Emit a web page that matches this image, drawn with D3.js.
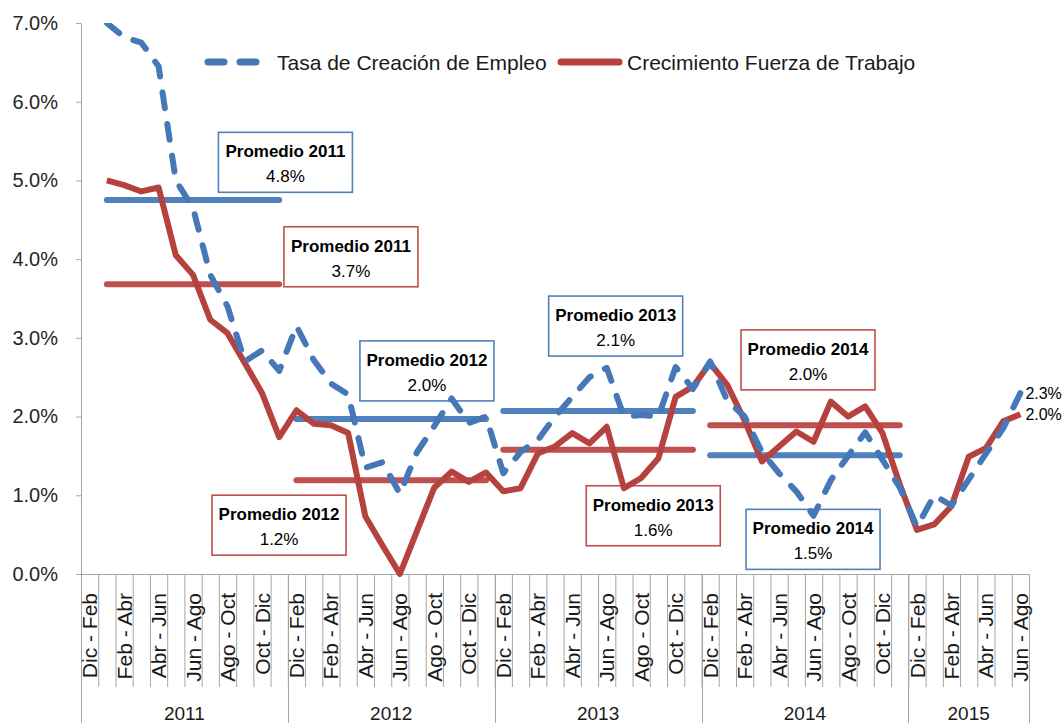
<!DOCTYPE html>
<html>
<head>
<meta charset="utf-8">
<script src="https://cdn.jsdelivr.net/npm/d3@7"></script>
<style>
  body { margin: 0; background: #fff; }
  svg text { font-family: "Liberation Sans", Arial, sans-serif; }
</style>
</head>
<body>
<div id="chart"></div>
<script>
// Rolling two-month periods, twelve per year (2015 stops at Jun - Ago)
let periods = ["Dic - Feb", "Ene - Mar", "Feb - Abr", "Mar - May", "Abr - Jun", "May - Jul",
  "Jun - Ago", "Jul - Sep", "Ago - Oct", "Sep - Nov", "Oct - Dic", "Nov - Ene"]
let years = ["2011", "2012", "2013", "2014", "2015"]
let periodsPerYear = [12, 12, 12, 12, 7]

// Tasa de Creación de Empleo (%)
let empleo = [null, 7.0, 6.82, 6.75, 6.45, 5.0, 4.65, 3.8, 3.4, 2.7, 2.84, 2.58,
  3.15, 2.72, 2.42, 2.28, 1.35, 1.42, 1.02, 1.55, 1.88, 2.23, 1.92, 2.0,
  1.28, 1.55, 1.7, 2.0, 2.25, 2.5, 2.62, 2.0, 2.02, 2.0, 2.63, 2.35,
  2.7, 2.2, 2.0, 1.55, 1.28, 1.05, 0.74, 1.19, 1.5, 1.8, 1.45, 1.1,
  0.6, 1.0, 0.87, 1.2, 1.53, 1.85, 2.3]

// Crecimiento Fuerza de Trabajo (%)
let fuerza = [null, 5.0, 4.94, 4.86, 4.91, 4.05, 3.8, 3.23, 3.06, 2.68, 2.3, 1.74,
  2.08, 1.91, 1.89, 1.79, 0.73, 0.36, 0.0, 0.55, 1.1, 1.3, 1.17, 1.29,
  1.05, 1.09, 1.53, 1.62, 1.79, 1.66, 1.87, 1.09, 1.22, 1.47, 2.25, 2.38,
  2.68, 2.4, 1.95, 1.43, 1.62, 1.81, 1.68, 2.19, 2.0, 2.13, 1.79, 1.14,
  0.56, 0.63, 0.86, 1.49, 1.6, 1.94, 2.03]

// Yearly averages drawn as flat lines: [first period, last period]
let promSpan = [[1, 11], [12, 23], [24, 35], [36, 47]]
let promEmpleo = [4.75, 1.97, 2.07, 1.51]
let promFuerza = [3.68, 1.19, 1.58, 1.89]

// Annotation boxes
let boxTitle = ["Promedio 2011", "Promedio 2011", "Promedio 2012", "Promedio 2012",
  "Promedio 2013", "Promedio 2013", "Promedio 2014", "Promedio 2014"]
let boxText = ["4.8%", "3.7%", "2.0%", "1.2%", "2.1%", "1.6%", "2.0%", "1.5%"]
let boxSeries = ["empleo", "fuerza", "empleo", "fuerza", "empleo", "fuerza", "fuerza", "empleo"]
// where each box sits, in (period, percent) units
let boxAt = [[11.86, 5.23], [15.66, 4.03], [20.07, 2.58], [11.49, 0.62],
  [31.02, 3.15], [33.2, 0.74], [42.18, 2.72], [42.47, 0.44]]

let seriesNames = ["Tasa de Creación de Empleo", "Crecimiento Fuerza de Trabajo"]

let width = 1064
let height = 723
let blue = "#4677b6", red = "#b5423f"
let blueProm = "#4f81bd", redProm = "#c0504d"
let axisColor = "#a6a6a6"

let svg = d3.select("#chart").append("svg")
    .attr("width", width)
    .attr("height", height)

// flat list of categories
let cats = []
years.forEach((yr, k) => {
  for (let j = 0; j < periodsPerYear[k]; j++) cats.push({year: yr, period: periods[j], j: j})
})

let left = 81, right = 1029
let x = d3.scaleBand().domain(d3.range(cats.length)).range([left, right])
let xEdge = d3.scaleLinear().domain([0, cats.length]).range([left, right])
let y = d3.scaleLinear().domain([0, 7]).range([574, 23])
let cx = (i) => x(i) + x.bandwidth() / 2

// clip only the top of the plot (the first point sits on 7%)
svg.append("clipPath").attr("id", "plot")
  .append("rect").attr("x", left).attr("y", y(7)).attr("width", right - left + 40).attr("height", 600)

// Y axis
let yAxis = svg.append("g")
    .attr("transform", "translate(" + left + ",0)")
    .call(d3.axisLeft(y).tickValues(d3.range(0, 8)).tickSize(5).tickSizeOuter(0).tickPadding(18)
      .tickFormat((d) => d.toFixed(1) + "%"))
yAxis.select(".domain").attr("stroke", axisColor)
yAxis.selectAll(".tick line").attr("stroke", axisColor)
yAxis.selectAll("text").attr("font-size", 20).attr("fill", "#262626")
  .attr("font-family", "Liberation Sans, Arial, sans-serif")

// X axis: ticks between every period
let xAxis = svg.append("g")
    .attr("transform", "translate(0," + y(0) + ")")
    .call(d3.axisBottom(xEdge).tickValues(d3.range(cats.length + 1)).tickSize(113)
      .tickSizeOuter(0).tickFormat(""))
xAxis.select(".domain").attr("stroke", axisColor)
xAxis.selectAll(".tick line").attr("stroke", axisColor)

// year separators run to the bottom edge
let yearEdges = [0]
periodsPerYear.forEach((n, k) => yearEdges.push(yearEdges[k] + n))
svg.append("g").selectAll("line")
    .data(yearEdges)
    .enter().append("line")
    .attr("x1", (d) => Math.round(xEdge(d)) + 0.5)
    .attr("x2", (d) => Math.round(xEdge(d)) + 0.5)
    .attr("y1", y(0))
    .attr("y2", height)
    .attr("stroke", axisColor)

// period labels, every other one
svg.append("g").selectAll("text")
    .data(cats.map((c, i) => Object.assign({i: i}, c)).filter((c) => c.j % 2 == 0))
    .enter().append("text")
    .attr("transform", (d) => "translate(" + cx(d.i) + "," + (y(0) + 19) + ") rotate(-90)")
    .attr("text-anchor", "end")
    .attr("dy", "0.36em")
    .attr("font-size", 21)
    .attr("fill", "#1a1a1a")
    .text((d) => d.period)

// year labels
svg.append("g").selectAll("text")
    .data(years)
    .enter().append("text")
    .attr("x", (d, k) => (xEdge(yearEdges[k]) + xEdge(yearEdges[k + 1])) / 2)
    .attr("y", 720)
    .attr("text-anchor", "middle")
    .attr("font-size", 19)
    .attr("fill", "#1a1a1a")
    .text((d) => d)

// annotation boxes
let boxes = svg.append("g").selectAll("g")
    .data(boxTitle.map((t, k) => ({title: t, text: boxText[k], series: boxSeries[k], at: boxAt[k]})))
    .enter().append("g")
    .attr("transform", (d) => "translate(" + xEdge(d.at[0]) + "," + y(d.at[1]) + ")")
boxes.append("rect")
    .attr("x", -67).attr("y", -30).attr("width", 134).attr("height", 60)
    .attr("fill", "#fff")
    .attr("stroke", (d) => d.series == "empleo" ? blueProm : redProm)
    .attr("stroke-width", 1.6)
boxes.append("text")
    .attr("y", -5)
    .attr("text-anchor", "middle")
    .attr("font-size", 17)
    .attr("font-weight", "bold")
    .attr("fill", "#000")
    .text((d) => d.title)
boxes.append("text")
    .attr("y", 20)
    .attr("text-anchor", "middle")
    .attr("font-size", 17)
    .attr("fill", "#000")
    .text((d) => d.text)

// yearly average lines
function promLines(values, color) {
  svg.append("g").selectAll("line")
      .data(values.map((v, k) => ({v: v, span: promSpan[k]})))
      .enter().append("line")
      .attr("x1", (d) => cx(d.span[0]))
      .attr("x2", (d) => cx(d.span[1]))
      .attr("y1", (d) => y(d.v))
      .attr("y2", (d) => y(d.v))
      .attr("stroke", color)
      .attr("stroke-width", 6)
      .attr("stroke-linecap", "round")
}
promLines(promEmpleo, blueProm)
promLines(promFuerza, redProm)

// series
let line = d3.line()
    .defined((d) => d != null)
    .x((d, i) => cx(i))
    .y((d) => y(d))

svg.append("path")
    .attr("clip-path", "url(#plot)")
    .attr("d", line(fuerza))
    .attr("fill", "none")
    .attr("stroke", red)
    .attr("stroke-width", 6)
    .attr("stroke-linejoin", "round")

svg.append("path")
    .attr("clip-path", "url(#plot)")
    .attr("d", line(empleo))
    .attr("fill", "none")
    .attr("stroke", blue)
    .attr("stroke-width", 6)
    .attr("stroke-linejoin", "round")
    .attr("stroke-linecap", "round")
    .attr("stroke-dasharray", "16,16")

// end value labels
let last = cats.length - 1
let endLabels = [empleo[last], fuerza[last]]
svg.append("g").selectAll("text")
    .data(endLabels)
    .enter().append("text")
    .attr("x", cx(last) + 5)
    .attr("y", (d) => y(d))
    .attr("dy", "0.36em")
    .attr("font-size", 16)
    .attr("fill", "#000")
    .text((d) => d.toFixed(1) + "%")

// legend
let legend = svg.append("g").attr("transform", "translate(0,62)")
legend.append("line")
    .attr("x1", 208).attr("x2", 259)
    .attr("stroke", blue).attr("stroke-width", 7)
    .attr("stroke-linecap", "round").attr("stroke-dasharray", "16,16")
legend.append("text")
    .attr("x", 277).attr("dy", "0.36em")
    .attr("font-size", 21).attr("fill", "#1a1a1a")
    .text(seriesNames[0])
legend.append("line")
    .attr("x1", 561).attr("x2", 619)
    .attr("stroke", red).attr("stroke-width", 7)
    .attr("stroke-linecap", "round")
legend.append("text")
    .attr("x", 627).attr("dy", "0.36em")
    .attr("font-size", 21).attr("fill", "#1a1a1a")
    .text(seriesNames[1])
</script>
</body>
</html>
